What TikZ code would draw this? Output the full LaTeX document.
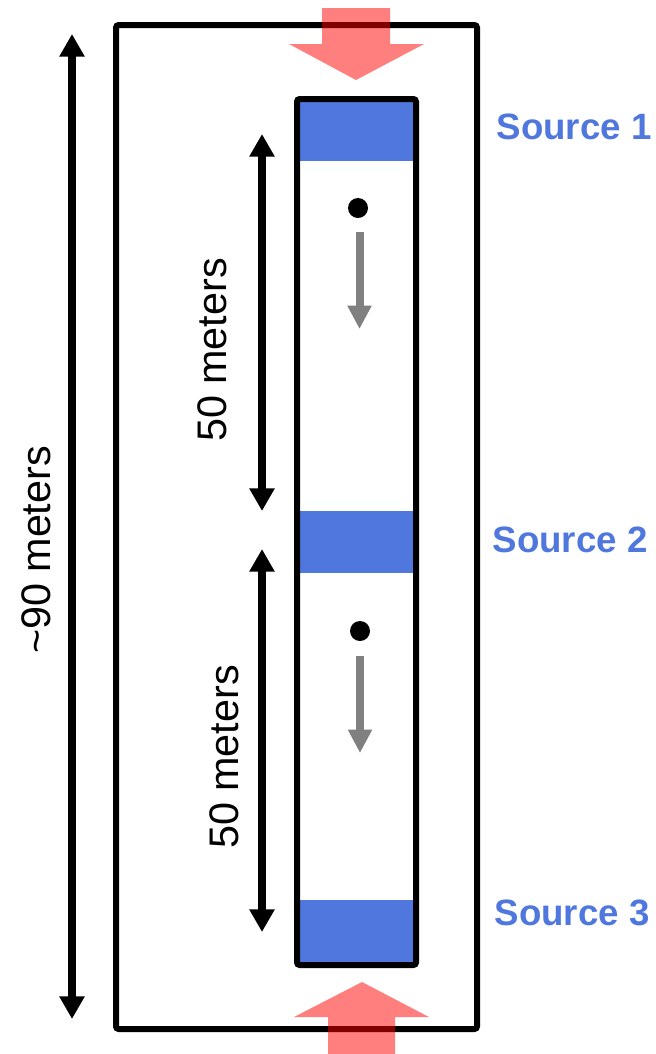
\documentclass[tikz,border=0pt]{standalone}
\usepackage{fontspec}
\setmainfont{Liberation Sans}
\usetikzlibrary{arrows.meta}
\definecolor{srcblue}{RGB}{79,119,221}
\definecolor{flowgray}{RGB}{128,128,128}
\begin{document}
\begin{tikzpicture}[x=0.75pt,y=-0.75pt,
  frame/.style={draw=black,line width=4.5pt,rounded corners=2pt},
  block/.style={fill=srcblue,draw=none},
  dimline/.style={line width=6pt,{Triangle[width=18pt,length=17pt]}-{Triangle[width=18pt,length=17pt]}},
  flow/.style={draw=flowgray,line width=6pt,-{Triangle[width=17pt,length=17.5pt]}},
  inflow/.style={fill=red,fill opacity=0.5,draw=none},
  srclabel/.style={text=srcblue,font=\bfseries\fontsize{27.5}{32}\selectfont,inner sep=0pt},
  dimlabel/.style={font=\fontsize{31}{36}\selectfont,rotate=90,inner sep=0pt},
  dot/.style={circle,fill=black,minimum size=15pt,inner sep=0pt}]
\useasboundingbox (0,0) rectangle (656,1054);
% blue source blocks
\fill[block] (297,99) rectangle (416,161);
\fill[block] (297,511) rectangle (416,573);
\fill[block] (297,900) rectangle (416,965);
% frames
\draw[frame] (297,99) rectangle (416,965);
\draw[frame] (116,25) rectangle (477,1029);
% labels
\node[srclabel] (s1) at (574,127) {Source 1};
\node[srclabel] (s2) at (570,540) {Source 2};
\node[srclabel] (s3) at (572,913) {Source 3};
% dimension lines
\coordinate (bigtop) at (72,34);
\coordinate (bigbot) at (72,1019);
\draw[dimline] (bigtop) -- (bigbot);
\coordinate (d1top) at (262,134);
\coordinate (d1bot) at (262,511);
\draw[dimline] (d1top) -- (d1bot);
\coordinate (d2top) at (262,549);
\coordinate (d2bot) at (262,932);
\draw[dimline] (d2top) -- (d2bot);
\node[dimlabel] (l90) at (36,550) {\textasciitilde 90 meters};
\node[dimlabel] (l50a) at (212,350) {50 meters};
\node[dimlabel] (l50b) at (224,757) {50 meters};
% particles and flow
\node[dot] (p1) at (358,208) {};
\coordinate (f1a) at (359.5,232);
\coordinate (f1b) at (359.5,329);
\draw[flow] (f1a) -- (f1b);
\node[dot] (p2) at (360,631) {};
\coordinate (f2a) at (360,656);
\coordinate (f2b) at (360,753);
\draw[flow] (f2a) -- (f2b);
% red inflow arrows
\fill[inflow] (322,8) -- (390,8) -- (390,44) -- (424,44) -- (356,80) -- (289,44) -- (322,44) -- cycle;
\fill[inflow] (328,1054) -- (395,1054) -- (395,1017) -- (429,1017) -- (362,982) -- (294,1017) -- (328,1017) -- cycle;
\end{tikzpicture}
\end{document}
